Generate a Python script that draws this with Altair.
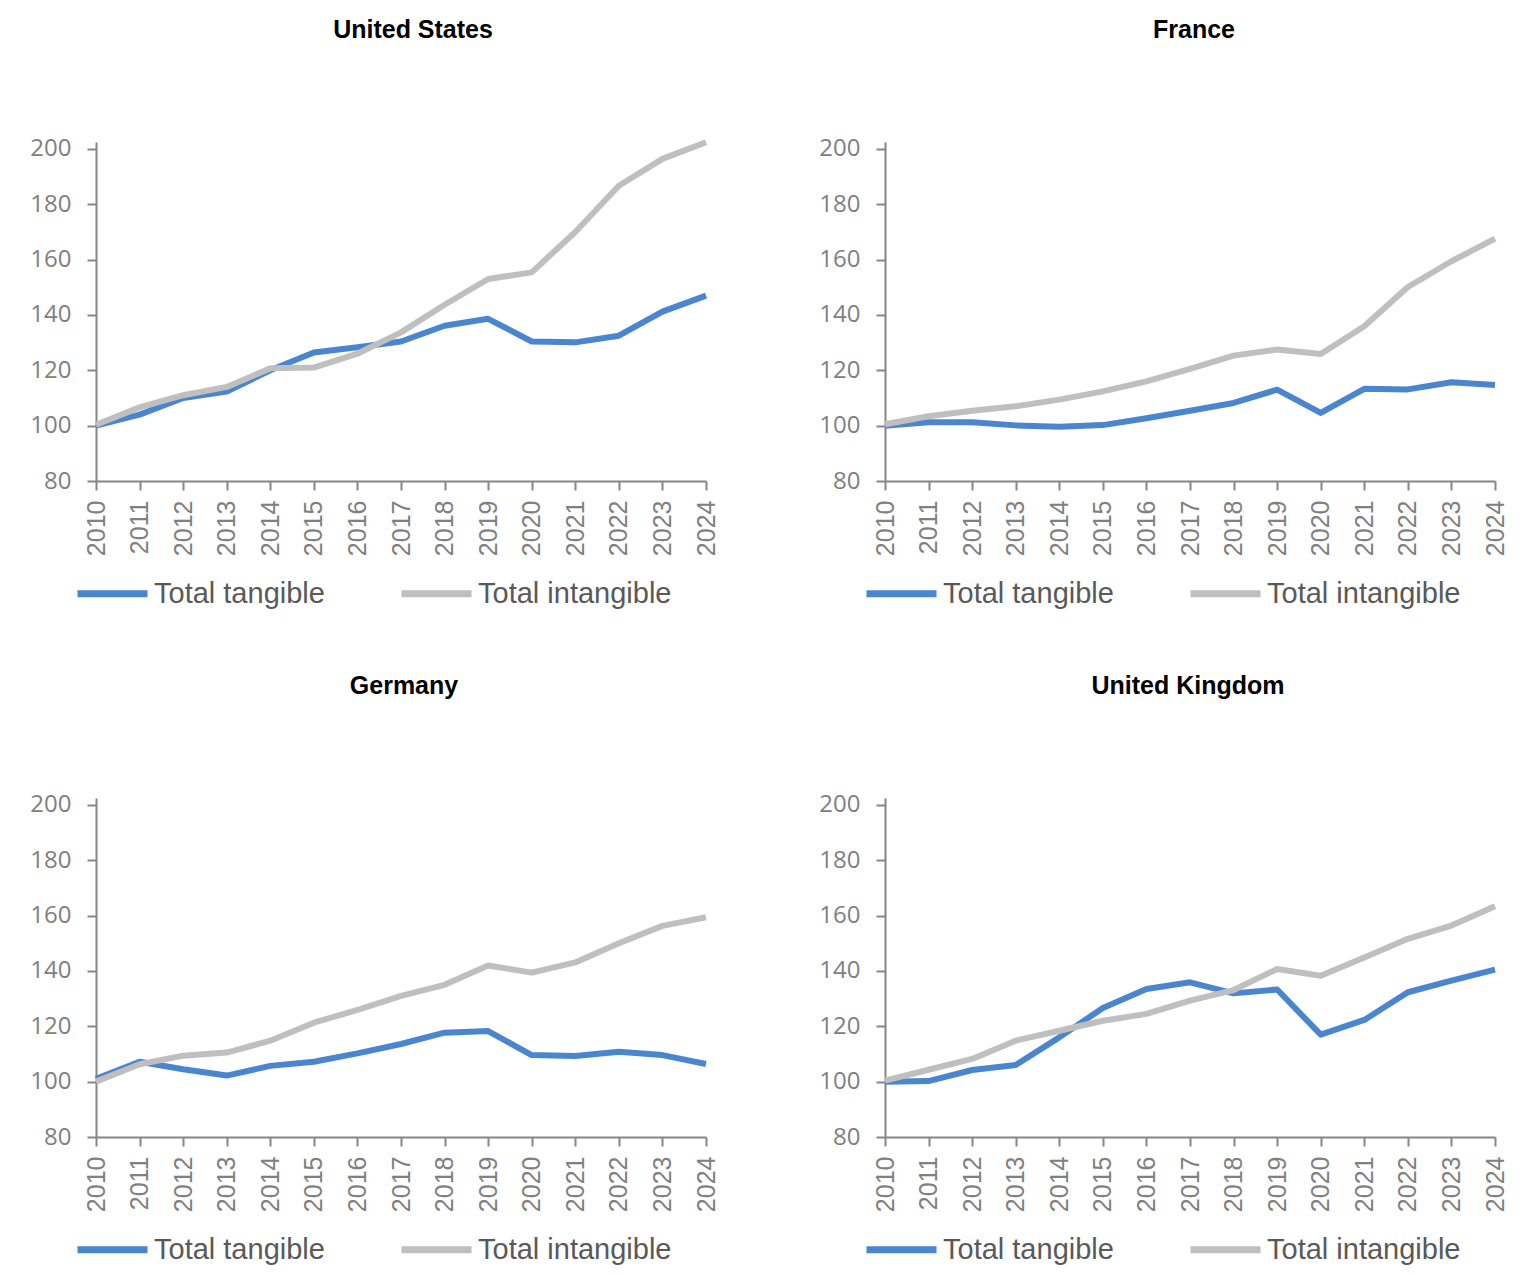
import altair as alt
import pandas as pd

years = list(range(2010, 2025))
series_names = ["Total tangible", "Total intangible"]
series_colors = ["#4a86cf", "#bfbfbf"]

us_tangible = [100, 104, 110, 112.3, 120, 126.4, 128.3, 130.4, 136.1, 138.6, 130.4, 130.1, 132.5, 141.2, 147]
us_intangible = [100.3, 106.6, 111, 114, 120.7, 121, 126, 133.7, 143.7, 153, 155.4, 170, 186.7, 196.4, 202.4]

fr_tangible = [100, 101.2, 101.2, 100.1, 99.6, 100.2, 102.7, 105.4, 108.2, 113, 104.6, 113.3, 113.1, 115.7, 114.7]
fr_intangible = [100.5, 103.4, 105.4, 107, 109.4, 112.4, 116, 120.5, 125.3, 127.5, 125.9, 135.9, 150.1, 159.4, 167.6]

de_tangible = [101, 107.2, 104.5, 102.2, 105.7, 107.2, 110.2, 113.6, 117.7, 118.3, 109.6, 109.3, 110.8, 109.6, 106.4]
de_intangible = [100, 106.3, 109.4, 110.5, 114.8, 121.3, 125.9, 131, 135, 142, 139.4, 143.1, 150, 156.3, 159.4]

uk_tangible = [100, 100.2, 104.2, 106, 116, 126.6, 133.5, 135.9, 131.9, 133.3, 117, 122.3, 132.3, 136.5, 140.5]
uk_intangible = [100.4, 104.3, 108.2, 114.8, 118.4, 122, 124.5, 129.3, 133.1, 140.7, 138.3, 144.9, 151.6, 156.4, 163.4]

y_ticks = [80, 100, 120, 140, 160, 180, 200]

AXIS_GRAY = "#868686"
LABEL_GRAY = "#808080"


def panel(name, tangible, intangible, title_dx):
    df = pd.DataFrame({
        "Year": [str(y) for y in years] * 2,
        "Value": tangible + intangible,
        "Series": [series_names[0]] * len(years) + [series_names[1]] * len(years),
    })
    return alt.Chart(
        df,
        title=alt.Title(
            name, font="Liberation Sans", fontSize=25, fontWeight="bold",
            color="#000000", anchor="middle", frame="group", offset=94, dx=title_dx,
        ),
    ).mark_line(strokeWidth=6, strokeJoin="round").encode(
        x=alt.X(
            "Year:O",
            scale=alt.Scale(type="point", padding=0),
            axis=alt.Axis(
                title=None, labelAngle=270, labelFont="Liberation Sans", labelFontSize=25,
                labelColor=LABEL_GRAY, tickSize=9, labelPadding=10,
            ),
        ),
        y=alt.Y(
            "Value:Q",
            scale=alt.Scale(domain=[80, 202.5], nice=False, zero=False),
            axis=alt.Axis(
                title=None, values=y_ticks, grid=False, labelFont="Open Sans",
                labelFontSize=24, labelColor=LABEL_GRAY, tickSize=9, labelPadding=16,
            ),
        ),
        color=alt.Color(
            "Series:N",
            scale=alt.Scale(domain=series_names, range=series_colors),
            legend=alt.Legend(
                title=None, orient="none", legendX=-22, legendY=413, direction="horizontal",
                symbolType="stroke", symbolSize=4900, symbolStrokeWidth=7,
                labelFont="Liberation Sans",
                labelFontSize=29, labelColor="#595959", labelOffset=3, columnPadding=62,
                labelLimit=400,
            ),
        ),
    ).properties(width=610, height=339)


us = panel("United States", us_tangible, us_intangible, 12)
fr = panel("France", fr_tangible, fr_intangible, 4)
de = panel("Germany", de_tangible, de_intangible, 3)
uk = panel("United Kingdom", uk_tangible, uk_intangible, -2)

chart = alt.vconcat(
    alt.hconcat(us, fr, spacing=99).resolve_scale(color="independent"),
    alt.hconcat(de, uk, spacing=99).resolve_scale(color="independent"),
    spacing=64,
).resolve_scale(color="independent").resolve_legend(color="independent").properties(
    padding={"left": 21, "top": 9, "right": 5, "bottom": 5}
).configure_view(stroke=None).configure_axis(
    domainColor=AXIS_GRAY, tickColor=AXIS_GRAY, domainWidth=2, tickWidth=2,
)

chart.save("out.html", embed_options={"renderer": "svg", "actions": False})
